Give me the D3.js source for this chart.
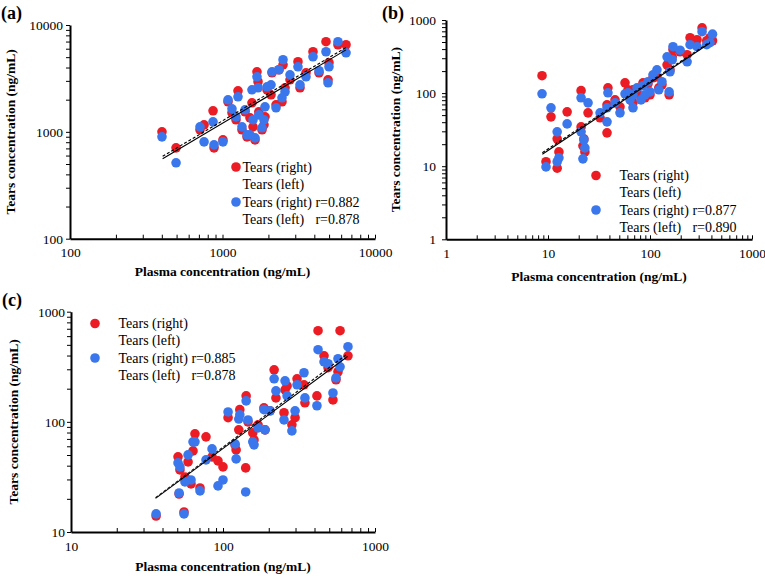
<!DOCTYPE html>
<html>
<head>
<meta charset="utf-8">
<script src="https://cdn.jsdelivr.net/npm/d3@7/dist/d3.min.js"></script>
<style>
  html, body { margin: 0; padding: 0; background: #fff; }
  svg { display: block; }
  svg text { font-family: "Liberation Serif", "LiberationSerif", "Times New Roman", Times, "Tinos", "DejaVu Serif", "Noto Serif", serif !important; fill: #000; }
</style>
</head>
<body>
<svg id="chart" width="765" height="576"></svg>
<script>
// ---------------- DATA ----------------
// Panel (a)
const plasmaA = [401, 496, 712, 757, 867, 880, 1007, 1087, 1154, 1264, 1226, 1342, 1448, 1561, 1514, 1585, 1683, 1710, 1900, 1871, 1959, 2080, 2113, 2244, 2346, 2494, 2455, 3126, 3223, 3528, 3921, 4295, 4772, 4992, 4920, 5717, 6457, 1405, 1730, 2771, 1634, 1816, 2570];
const tearsRightA = [1000, 708, 1045, 1164, 1574, 708, 841, 1911, 1507, 2423, 1296, 1045, 898, 1871, 1353, 1114, 3649, 2943, 1382, 1164, 2476, 2222, 3572, 1791, 3811, 4244, 1911, 4529, 2584, 3572, 5618, 3572, 6978, 4433, 3069, 6534, 6534, 1540, 1540, 3069, 841, 1045, 2584];
const tearsLeftA = [898, 513, 1114, 806, 1241, 756, 806, 1996, 1643, 2129, 1382, 1114, 937, 2476, 937, 1296, 3275, 2584, 1714, 1296, 2641, 2757, 3649, 1679, 3811, 4731, 2083, 4064, 2757, 3275, 5046, 3730, 5618, 4064, 2878, 6978, 5496, 1608, 1443, 3421, 879, 1091, 2371];
const fitRightA = [[405, 560], [6450, 5850]];
const fitLeftA = [[405, 590], [6450, 6150]];
const xTicksA = [100, 1000, 10000];
const yTicksA = [100, 1000, 10000];
const rA = ["0.882", "0.878"];

// Panel (b)
const plasmaB = [8.74, 10.7, 15.4, 12.3, 21.1, 24.7, 21.1, 22.5, 23.0, 22.0, 12.8, 12.3, 9.56, 38.7, 32.4, 37.9, 37.9, 56.9, 60.9, 50.8, 45.4, 324, 387, 289, 247, 168, 165, 147, 231, 157, 117, 107, 131, 122, 154, 95.6, 85.4, 100, 89.3, 68.1, 68.1, 81.6, 197, 63.7, 74.6, 360, 410];
const tearsRightB = [173, 47.3, 55.4, 23.7, 108, 53.7, 34.5, 23.7, 15.7, 19.0, 15.7, 9.4, 11.5, 118, 45.9, 69.1, 28.6, 138, 111, 64.9, 80.9, 780, 573, 537, 573, 392, 314, 244, 335, 208, 167, 162, 130, 118, 94.8, 134, 138, 94.8, 86.3, 111, 73.6, 86.3, 368, 86.3, 104, 520, 520];
const tearsLeftB = [97.8, 62.9, 37.9, 29.5, 86.3, 73.6, 29.5, 22.9, 17.8, 12.6, 13.0, 11.5, 9.78, 101, 53.7, 40.4, 62.9, 97.8, 101, 53.7, 73.6, 692, 489, 431, 459, 431, 286, 314, 268, 196, 208, 178, 143, 111, 104, 143, 126, 104, 94.8, 94.8, 62.9, 80.9, 386, 80.9, 118, 460, 640];
const fitRightB = [[8.8, 14.6], [387, 484]];
const fitLeftB = [[8.8, 15.3], [387, 500]];
const xTicksB = [1, 10, 100, 1000];
const yTicksB = [1, 10, 100, 1000];
const rB = ["0.877", "0.890"];

// Panel (c)
const plasmaC = [36.3, 55.4, 51.4, 56.2, 70.6, 61.6, 50.6, 58.9, 52.1, 63.5, 65.4, 77.3, 84.7, 92.7, 100, 108, 122, 129, 127, 142, 141, 146, 157, 160, 186, 189, 217, 223, 252, 256, 264, 284, 298, 307, 341, 346, 415, 422, 462, 491, 529, 554, 571, 589, 664, 120, 170, 204];
const tearsRightC = [13.97, 15.2, 22.1, 31.6, 25.1, 27.3, 48.1, 43.3, 36.6, 54.5, 77.8, 73.1, 48.1, 44.2, 39.0, 109, 55.6, 129, 84.6, 172, 38.2, 100, 79.4, 68.6, 134, 84.6, 297, 165, 121, 195, 212, 93.9, 109, 246, 217, 149, 172, 672, 398, 310, 158, 241, 285, 672, 398, 61.8, 93.9, 126];
const tearsLeftC = [14.6, 14.6, 22.6, 28.5, 23.6, 29.7, 42.4, 50.1, 39.0, 65.8, 65.8, 45.2, 56.8, 26.2, 29.7, 123, 46.1, 116, 106, 155, 23.1, 104, 65.8, 61.8, 129, 84.6, 246, 191, 104, 236, 172, 82.8, 126, 217, 279, 165, 140, 452, 351, 337, 183, 251, 374, 316, 481, 63.1, 88.2, 126];
const fitRightC = [[36, 20.2], [660, 392]];
const fitLeftC = [[36, 20.5], [660, 415]];
const xTicksC = [10, 100, 1000];
const yTicksC = [10, 100, 1000];
const rC = ["0.885", "0.878"];

const legendLabels = ["Tears (right)", "Tears (left)", "Tears (right)", "Tears (left)"];
const xTitle = "Plasma concentration (ng/mL)";
const yTitle = "Tears concentration (ng/mL)";

// ---------------- DRAW ----------------
const FONT = '"Liberation Serif", "Times New Roman", Times, "DejaVu Serif", serif';
const RED = "#ec1c24", BLUE = "#3b77ec";
const svg = d3.select("#chart");
svg.append("rect").attr("width", 765).attr("height", 576).attr("fill", "#fff");

const panels = [
  { label: "(a)", labelX: 1, labelY: 19,
    plasma: plasmaA, right: tearsRightA, left: tearsLeftA, fitR: fitRightA, fitL: fitLeftA,
    xTicks: xTicksA, yTicks: yTicksA, r: rA,
    xr: [70, 375], yr: [238.7, 25], yPad: 3,
    yTitleX: 15, xTitleY: 276,
    leg: { dotX: 236, textX: 242.5, rows: [167, 184.5, 202, 219.5], dots: [0, 2] } },
  { label: "(b)", labelX: 382, labelY: 19,
    plasma: plasmaB, right: tearsRightB, left: tearsLeftB, fitR: fitRightB, fitL: fitLeftB,
    xTicks: xTicksB, yTicks: yTicksB, r: rB,
    xr: [446, 752], yr: [239.3, 20], yPad: 6,
    yTitleX: 400, xTitleY: 281,
    leg: { dotX: 596, textX: 619.5, rows: [175.5, 192.8, 210, 227.3], dots: [0, 2] } },
  { label: "(c)", labelX: 2, labelY: 306,
    plasma: plasmaC, right: tearsRightC, left: tearsLeftC, fitR: fitRightC, fitL: fitLeftC,
    xTicks: xTicksC, yTicks: yTicksC, r: rC,
    xr: [71, 375], yr: [532, 311.7], yPad: 2,
    yTitleX: 18, xTitleY: 571,
    leg: { dotX: 95, textX: 118.5, rows: [323.5, 340.5, 358, 375.3], dots: [0, 2] } }
];

panels.forEach(p => {
  const xDom = [p.xTicks[0], p.xTicks[p.xTicks.length - 1]];
  const yDom = [p.yTicks[0], p.yTicks[p.yTicks.length - 1]];
  const x = d3.scaleLog().domain(xDom).range(p.xr);
  const y = d3.scaleLog().domain(yDom).range(p.yr);
  const g = svg.append("g").attr("font-family", FONT);
  const isMajor = (ticks) => d => ticks.some(t => Math.abs(t - d) / t < 1e-9);

  const yAx = g.append("g").attr("transform", `translate(${p.xr[0]},0)`)
    .call(d3.axisLeft(y).tickValues(y.ticks()).tickSize(4).tickSizeOuter(0).tickPadding(p.yPad)
      .tickFormat(d => isMajor(p.yTicks)(d) ? String(d) : ""));
  const xAx = g.append("g").attr("transform", `translate(0,${p.yr[0]})`)
    .call(d3.axisBottom(x).tickValues(x.ticks()).tickSizeInner(-4).tickSizeOuter(0).tickPadding(9)
      .tickFormat(d => isMajor(p.xTicks)(d) ? String(d) : ""));
  [yAx, xAx].forEach(ax => {
    ax.attr("font-family", FONT).attr("font-size", 13.5);
    ax.select(".domain").attr("stroke", "#000").attr("stroke-width", 2);
    ax.selectAll(".tick line").attr("stroke", "#000").attr("stroke-width", 1);
    ax.selectAll(".tick text").attr("font-family", FONT).attr("font-size", 13.5).attr("fill", "#000");
  });

  const pts = p.plasma.map((v, i) => ({ x: v, r: p.right[i], l: p.left[i] }));
  g.append("g").selectAll("circle").data(pts).join("circle")
    .attr("cx", d => x(d.x)).attr("cy", d => y(d.r)).attr("r", 4.8).attr("fill", RED);
  g.append("g").selectAll("circle").data(pts).join("circle")
    .attr("cx", d => x(d.x)).attr("cy", d => y(d.l)).attr("r", 4.8).attr("fill", BLUE);

  const line = d3.line().x(d => x(d[0])).y(d => y(d[1]));
  g.append("path").attr("d", line(p.fitR)).attr("fill", "none").attr("stroke", "#000").attr("stroke-width", 1.1);
  g.append("path").attr("d", line(p.fitL)).attr("fill", "none").attr("stroke", "#000").attr("stroke-width", 1.1)
    .attr("stroke-dasharray", "3,2");

  g.append("text").attr("x", (p.xr[0] + p.xr[1]) / 2).attr("y", p.xTitleY)
    .attr("text-anchor", "middle").attr("font-weight", "bold").attr("font-size", 13.5).text(xTitle);
  g.append("text").attr("transform", `translate(${p.yTitleX},${(p.yr[0] + p.yr[1]) / 2}) rotate(-90)`)
    .attr("text-anchor", "middle").attr("font-weight", "bold").attr("font-size", 13.5).text(yTitle);
  g.append("text").attr("x", p.labelX).attr("y", p.labelY).attr("font-weight", "bold")
    .attr("font-size", 18).text(p.label);

  const L = p.leg;
  [RED, BLUE].forEach((c, k) => {
    g.append("circle").attr("cx", L.dotX).attr("cy", L.rows[L.dots[k]]).attr("r", 4.8).attr("fill", c);
  });
  const fs = 14;
  const rows = legendLabels.map((t, i) => g.append("text").attr("x", L.textX).attr("y", L.rows[i] + 4.5)
    .attr("font-size", fs).text(t));
  const prefW = rows[2].node().getComputedTextLength();
  const spaceW = 3.5;
  g.append("text").attr("x", L.textX + prefW + spaceW).attr("y", L.rows[2] + 4.5).attr("font-size", fs).text("r=" + p.r[0]);
  g.append("text").attr("x", L.textX + prefW + spaceW).attr("y", L.rows[3] + 4.5).attr("font-size", fs).text("r=" + p.r[1]);
});
</script>
</body>
</html>
